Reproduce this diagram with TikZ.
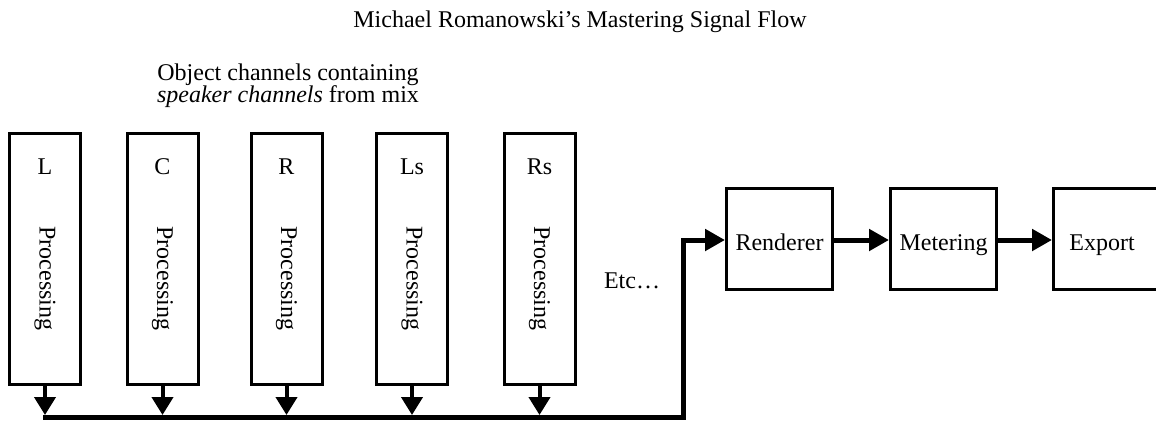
\documentclass[tikz,border=0pt]{standalone}
\usepackage{fontspec}
\setmainfont{Liberation Serif}
\usetikzlibrary{arrows.meta}
\begin{document}
\begin{tikzpicture}[x=1pt,y=-1pt,
  txt/.style={font=\fontsize{24}{24}\selectfont, inner sep=0pt, anchor=base},
  chbox/.style={draw, line width=3pt, minimum width=71pt, minimum height=251pt, inner sep=0pt},
  stagebox/.style={draw, line width=3pt, minimum width=106pt, minimum height=101pt, inner sep=0pt},
  downarrow/.style={line width=4pt, -{Triangle[length=18pt,width=21pt]}},
  flowarrow/.style={line width=5pt, -{Triangle[length=20pt,width=21pt]}},
  bus/.style={line width=5pt}]
\useasboundingbox (0,0) rectangle (1156,421);
\begin{scope}
\clip (0,0) rectangle (1156,421);
% title and header
\node[txt] (title) at (580,27) {Michael Romanowski’s Mastering Signal Flow};
\node[txt] (obj1) at (288,80) {Object channels containing};
\node[txt] (obj2) at (288,102) {\textit{speaker channels} from mix};
% channel boxes
\foreach \n/\x/\t in {L/45/L, C/162.5/C, R/286.5/R, Ls/412/Ls, Rs/539.5/Rs}{
  \node[chbox] (\n) at (\x,259) {};
  \node[txt] (\n lbl) at (\x,174) {\t};
  \node[font=\fontsize{24}{24}\selectfont, inner sep=0pt, rotate=-90] (\n proc) at (\x,278.5) {Processing};
  \coordinate (\n bus) at (\x,415);
}
\node[txt] (etc) at (632,288) {Etc…};
% stage boxes
\node[stagebox] (ren) at (779.5,239) {};
\node[txt] (renlbl) at (779.5,250) {Renderer};
\node[stagebox] (met) at (943.5,239) {};
\node[txt] (metlbl) at (943.5,250) {Metering};
\node[stagebox] (exp) at (1106.5,239) {};
\node[txt] (explbl) at (1102,250) {Export};
% bus
\coordinate (busL) at (43,417);
\coordinate (busCorner) at (683,417);
\coordinate (busUp) at (683,240);
\foreach \n in {L,C,R,Ls,Rs}{
  \draw[downarrow] (\n.south) -- (\n bus);
}
\draw[bus, line join=miter] (busL) -- (busCorner) -- (busUp) -- ++(2,0);
\draw[flowarrow] (busUp) -- (ren.west |- busUp);
\draw[flowarrow] (ren.east |- busUp) -- (met.west |- busUp);
\draw[flowarrow] (met.east |- busUp) -- (exp.west |- busUp);
\end{scope}
\end{tikzpicture}
\end{document}
